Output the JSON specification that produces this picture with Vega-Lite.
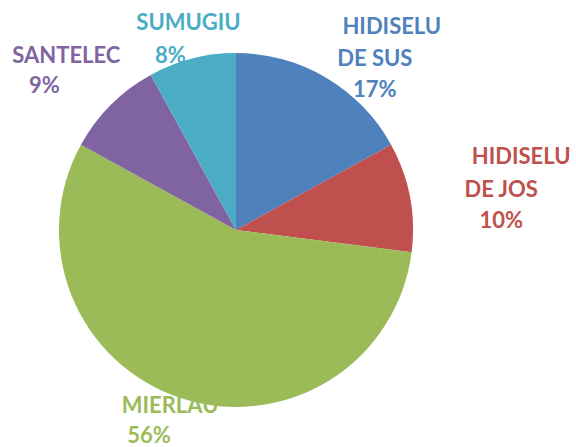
{
  "$schema": "https://vega.github.io/schema/vega-lite/v6.json",
  "width": 472,
  "height": 434,
  "autosize": {"type": "none"},
  "padding": {"left": 0, "top": 13, "right": 104, "bottom": 0},
  "background": "white",
  "config": {
    "view": {"stroke": null},
    "text": {"font": "Lato", "fontWeight": "bold", "fontSize": 22, "align": "center", "baseline": "alphabetic", "lineHeight": 31}
  },
  "data": {
    "values": [
      {"name": "HIDISELU DE SUS", "order": 1, "value": 17, "line1": "HIDISELU", "rest": ["DE SUS", "17%"]},
      {"name": "HIDISELU DE JOS", "order": 2, "value": 10, "line1": "HIDISELU", "rest": ["DE JOS", "10%"]},
      {"name": "MIERLAU", "order": 3, "value": 56, "line1": "MIERLAU", "rest": ["56%"]},
      {"name": "SANTELEC", "order": 4, "value": 9, "line1": "SANTELEC", "rest": ["9%"]},
      {"name": "SUMUGIU", "order": 5, "value": 8, "line1": "SUMUGIU", "rest": ["8%"]}
    ]
  },
  "encoding": {
    "theta": {"field": "value", "type": "quantitative", "stack": true},
    "order": {"field": "order", "type": "quantitative"},
    "color": {
      "field": "name",
      "type": "nominal",
      "scale": {
        "domain": ["HIDISELU DE SUS", "HIDISELU DE JOS", "MIERLAU", "SANTELEC", "SUMUGIU"],
        "range": ["#4F81BD", "#C0504D", "#9BBB59", "#8064A2", "#4BACC6"]
      },
      "legend": null
    }
  },
  "layer": [
    {"mark": {"type": "text", "radius": 200, "dx": 54, "dy": -24},
     "encoding": {"text": {"condition": {"test": "datum.name === 'HIDISELU DE SUS'", "field": "line1", "type": "nominal"}, "value": ""}}},
    {"mark": {"type": "text", "radius": 200, "dx": 37, "dy": 8},
     "encoding": {"text": {"condition": {"test": "datum.name === 'HIDISELU DE SUS'", "field": "rest", "type": "nominal"}, "value": ""}}},
    {"mark": {"type": "text", "radius": 270, "dx": 20, "dy": -15},
     "encoding": {"text": {"condition": {"test": "datum.name === 'HIDISELU DE JOS'", "field": "line1", "type": "nominal"}, "value": ""}}},
    {"mark": {"type": "text", "radius": 270, "dx": 0, "dy": 18},
     "encoding": {"text": {"condition": {"test": "datum.name === 'HIDISELU DE JOS'", "field": "rest", "type": "nominal"}, "value": ""}}},
    {"mark": {"type": "text", "radius": 210, "dx": -1, "dy": -17},
     "encoding": {"text": {"condition": {"test": "datum.name === 'MIERLAU'", "field": "line1", "type": "nominal"}, "value": ""}}},
    {"mark": {"type": "text", "radius": 210, "dx": -22, "dy": 13},
     "encoding": {"text": {"condition": {"test": "datum.name === 'MIERLAU'", "field": "rest", "type": "nominal"}, "value": ""}}},
    {"mark": {"type": "text", "radius": 240, "dx": 0, "dy": 3},
     "encoding": {"text": {"condition": {"test": "datum.name === 'SANTELEC'", "field": "line1", "type": "nominal"}, "value": ""}}},
    {"mark": {"type": "text", "radius": 240, "dx": -22, "dy": 33},
     "encoding": {"text": {"condition": {"test": "datum.name === 'SANTELEC'", "field": "rest", "type": "nominal"}, "value": ""}}},
    {"mark": {"type": "text", "radius": 195, "dx": 1, "dy": -11},
     "encoding": {"text": {"condition": {"test": "datum.name === 'SUMUGIU'", "field": "line1", "type": "nominal"}, "value": ""}}},
    {"mark": {"type": "text", "radius": 195, "dx": -17, "dy": 22},
     "encoding": {"text": {"condition": {"test": "datum.name === 'SUMUGIU'", "field": "rest", "type": "nominal"}, "value": ""}}},
    {"mark": {"type": "arc", "outerRadius": 177}}
  ]
}
